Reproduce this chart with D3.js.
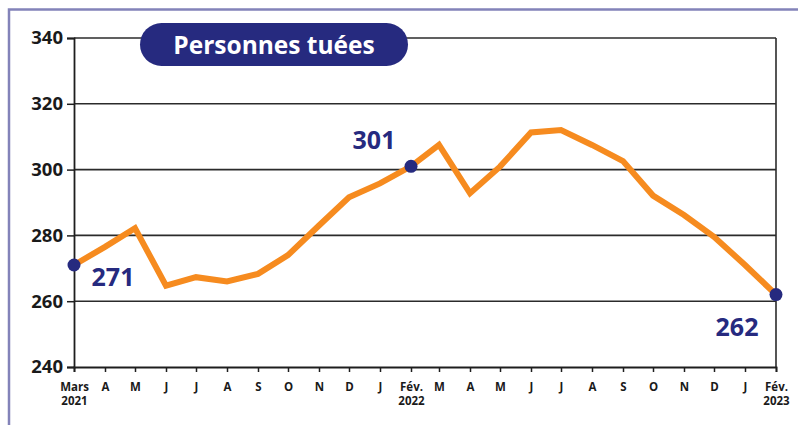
<!DOCTYPE html>
<html>
<head>
<meta charset="utf-8">
<script src="https://cdn.jsdelivr.net/npm/d3@7"></script>
<style>
  body { margin: 0; background: #fff; }
  svg { display: block; }
</style>
</head>
<body>
<div id="chart"></div>
<script>
// Data
const months = ["2021-03", "2021-04", "2021-05", "2021-06", "2021-07", "2021-08", "2021-09",
  "2021-10", "2021-11", "2021-12", "2022-01", "2022-02", "2022-03", "2022-04", "2022-05",
  "2022-06", "2022-07", "2022-08", "2022-09", "2022-10", "2022-11", "2022-12", "2023-01", "2023-02"]
const tues = [271, 276.5, 282.2, 264.7, 267.3, 266, 268.3, 274, 283, 291.6, 295.8, 301,
  307.5, 292.8, 300.9, 311.3, 312, 307.5, 302.6, 292.1, 286.2, 279.6, 271, 262]
const tickLabels = ["Mars", "A", "M", "J", "J", "A", "S", "O", "N", "D", "J", "Fév.",
  "M", "A", "M", "J", "J", "A", "S", "O", "N", "D", "J", "Fév."]
const tickYears = {0: "2021", 11: "2022", 23: "2023"}
const yTicks = [240, 260, 280, 300, 320, 340]
const callouts = [
  {i: 0, text: "271", dx: 39, dy: 21},
  {i: 11, text: "301", dx: -37, dy: -17},
  {i: 23, text: "262", dx: -39, dy: 41},
]
const title = "Personnes tuées"

// Dimensions
const dimensions = {
  width: 798,
  height: 425,
  margin: {top: 38, right: 22, bottom: 58, left: 74},
}
dimensions.boundedWidth = dimensions.width - dimensions.margin.left - dimensions.margin.right
dimensions.boundedHeight = dimensions.height - dimensions.margin.top - dimensions.margin.bottom

const navy = "#262a7f"
const orange = "#f68b1f"
const font = "'Open Sans', 'Noto Sans', sans-serif"

const parseMonth = d3.timeParse("%Y-%m")
const data = months.map((m, i) => ({date: parseMonth(m), value: tues[i]}))
const xAccessor = d => d.date
const yAccessor = d => d.value

const wrapper = d3.select("#chart")
  .append("svg")
  .attr("width", dimensions.width)
  .attr("height", dimensions.height)

// outer frame
wrapper.append("path")
  .attr("d", `M9,${dimensions.height} V9.5 H${dimensions.width}`)
  .attr("fill", "none")
  .attr("stroke", "#8383b9")
  .attr("stroke-width", 2.5)

const bounds = wrapper.append("g")
  .attr("transform", `translate(${dimensions.margin.left},${dimensions.margin.top})`)

// Scales
const xScale = d3.scaleTime()
  .domain(d3.extent(data, xAccessor))
  .range([0, dimensions.boundedWidth])

const yScale = d3.scaleLinear()
  .domain([240, 340])
  .range([dimensions.boundedHeight, 0])

// Gridlines
bounds.append("g")
  .selectAll("line")
  .data(yTicks.slice(1))
  .join("line")
  .attr("x1", 0)
  .attr("x2", dimensions.boundedWidth)
  .attr("y1", d => yScale(d))
  .attr("y2", d => yScale(d))
  .attr("stroke", "#2b2b2b")
  .attr("stroke-width", 1.6)

// right border
bounds.append("line")
  .attr("x1", dimensions.boundedWidth)
  .attr("x2", dimensions.boundedWidth)
  .attr("y1", 0)
  .attr("y2", dimensions.boundedHeight)
  .attr("stroke", "#2b2b2b")
  .attr("stroke-width", 1.6)

// Y axis
const yAxis = bounds.append("g")
  .call(d3.axisLeft(yScale).tickValues(yTicks).tickSize(7).tickPadding(4))
yAxis.select(".domain").attr("stroke", "#1e1e1e").attr("stroke-width", 1.8)
yAxis.selectAll(".tick line").attr("stroke", "#1e1e1e").attr("stroke-width", 1.5)
yAxis.selectAll("text")
  .attr("font-family", font)
  .attr("font-weight", 700)
  .attr("font-size", 18.5)
  .attr("fill", "#1a1a1a")

// X axis
const xAxis = bounds.append("g")
  .attr("transform", `translate(0,${dimensions.boundedHeight})`)
  .call(d3.axisBottom(xScale).tickValues(data.map(xAccessor)).tickSize(5).tickFormat(""))
xAxis.select(".domain").attr("stroke", "#1e1e1e").attr("stroke-width", 1.8)
xAxis.selectAll(".tick line").attr("stroke", "#1e1e1e").attr("stroke-width", 1.5)

const xLabels = xAxis.selectAll(".tick")
  .append("text")
  .attr("text-anchor", "middle")
  .attr("font-family", font)
  .attr("font-weight", 700)
  .attr("font-size", 11.5)
  .attr("fill", "#1a1a1a")
xLabels.append("tspan")
  .attr("x", 0)
  .attr("y", 24)
  .text((d, i) => tickLabels[i])
xLabels.append("tspan")
  .attr("x", 0)
  .attr("y", 38)
  .text((d, i) => tickYears[i] || "")

// Line
const lineGenerator = d3.line()
  .x(d => xScale(xAccessor(d)))
  .y(d => yScale(yAccessor(d)))

bounds.append("path")
  .attr("d", lineGenerator(data))
  .attr("fill", "none")
  .attr("stroke", orange)
  .attr("stroke-width", 6)
  .attr("stroke-linejoin", "miter")

// Dots + callouts
bounds.selectAll(".dot")
  .data(callouts)
  .join("circle")
  .attr("class", "dot")
  .attr("cx", d => xScale(data[d.i].date))
  .attr("cy", d => yScale(data[d.i].value))
  .attr("r", 6.5)
  .attr("fill", navy)

bounds.selectAll(".callout")
  .data(callouts)
  .join("text")
  .attr("class", "callout")
  .attr("x", d => xScale(data[d.i].date) + d.dx)
  .attr("y", d => yScale(data[d.i].value) + d.dy)
  .attr("text-anchor", "middle")
  .attr("font-family", font)
  .attr("font-weight", 700)
  .attr("font-size", 25)
  .attr("fill", navy)
  .text(d => d.text)

// Title pill
const pill = wrapper.append("g")
  .attr("transform", "translate(274,45)")
pill.append("rect")
  .attr("x", -134)
  .attr("y", -22)
  .attr("width", 268)
  .attr("height", 43)
  .attr("rx", 21.5)
  .attr("fill", navy)
pill.append("text")
  .attr("text-anchor", "middle")
  .attr("y", 8.5)
  .attr("font-family", font)
  .attr("font-weight", 700)
  .attr("font-size", 24.5)
  .attr("fill", "#fff")
  .text(title)
</script>
</body>
</html>
